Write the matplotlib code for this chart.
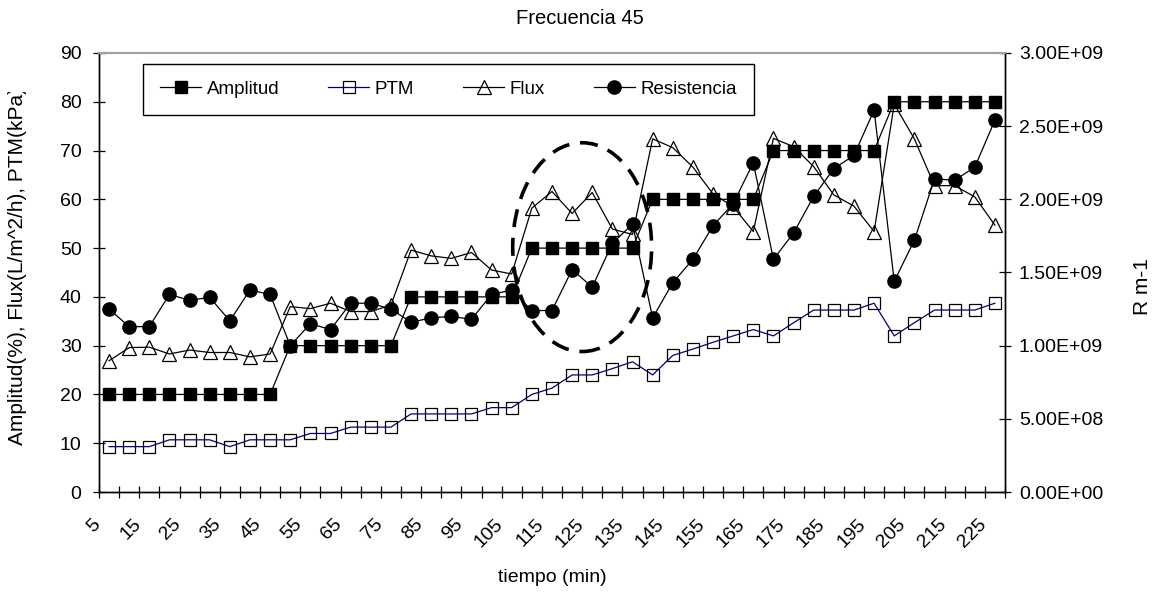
import matplotlib
matplotlib.use("Agg")
import matplotlib.pyplot as plt
from matplotlib.patches import Ellipse
from matplotlib.ticker import FixedLocator, FuncFormatter, NullFormatter, MultipleLocator
from matplotlib.transforms import Bbox, ScaledTranslation

plt.rcParams['font.family'] = ['Liberation Sans', 'DejaVu Sans']
plt.rcParams['font.size'] = 14

# tiempo (min)
minutes = [5, 10, 15, 20, 25, 30, 35, 40, 45, 50, 55, 60, 65, 70, 75,
           80, 85, 90, 95, 100, 105, 110, 115, 120, 125, 130, 135, 140, 145, 150,
           155, 160, 165, 170, 175, 180, 185, 190, 195, 200, 205, 210, 215, 220, 225]

amplitud = [20, 20, 20, 20, 20, 20, 20, 20, 20, 30, 30, 30, 30, 30, 30,
            40, 40, 40, 40, 40, 40, 50, 50, 50, 50, 50, 50, 60, 60, 60,
            60, 60, 60, 70, 70, 70, 70, 70, 70, 80, 80, 80, 80, 80, 80]

ptm = [9.3, 9.3, 9.3, 10.7, 10.7, 10.7, 9.3, 10.7, 10.7, 10.7, 12.0, 12.0, 13.3, 13.3, 13.3,
       16.0, 16.0, 16.0, 16.0, 17.3, 17.3, 20.0, 21.3, 24.0, 24.0, 25.3, 26.7, 24.0, 28.0, 29.3,
       30.7, 32.0, 33.3, 32.0, 34.7, 37.3, 37.3, 37.3, 38.7, 32.0, 34.7, 37.3, 37.3, 37.3, 38.7]

flux = [26.9, 29.6, 29.7, 28.3, 29.1, 28.6, 28.6, 27.7, 28.3, 38.0, 37.6, 38.7, 37.0, 37.0, 38.3,
        49.6, 48.4, 47.9, 49.1, 45.5, 44.7, 58.2, 61.6, 57.1, 61.4, 53.9, 52.8, 72.4, 70.6, 66.6,
        61.1, 58.5, 53.4, 72.5, 70.8, 66.7, 60.9, 58.6, 53.4, 79.5, 72.4, 62.8, 62.8, 60.5, 54.7]

resistencia = [1.25e9, 1.13e9, 1.13e9, 1.35e9, 1.31e9, 1.33e9, 1.17e9, 1.38e9, 1.35e9, 1.00e9,
               1.15e9, 1.11e9, 1.29e9, 1.29e9, 1.25e9, 1.16e9, 1.19e9, 1.20e9, 1.18e9, 1.35e9,
               1.38e9, 1.24e9, 1.24e9, 1.52e9, 1.40e9, 1.70e9, 1.83e9, 1.19e9, 1.43e9, 1.59e9,
               1.82e9, 1.97e9, 2.25e9, 1.59e9, 1.77e9, 2.02e9, 2.21e9, 2.30e9, 2.61e9, 1.44e9,
               1.72e9, 2.14e9, 2.13e9, 2.22e9, 2.54e9]

x = list(range(len(minutes)))

W, H = 1159, 592
fig = plt.figure(figsize=(W / 100, H / 100), dpi=100)
ax = fig.add_axes([0.0854, 0.1689, 0.7817, 0.7416])
ax2 = ax.twinx()

# left-axis series go above the resistance curve
ax.set_zorder(ax2.get_zorder() + 1)
ax.patch.set_visible(False)
ax2.set_facecolor('#FFFFCC')

l_res, = ax2.plot(x, resistencia, color='black', lw=0.9, marker='o', ms=9.5,
                  mfc='black', mec='black', label='Resistencia')
l_ptm, = ax.plot(x, ptm, color='#000080', lw=0.9, marker='s', ms=9,
                 mfc='none', mec='black', mew=0.9, label='PTM', zorder=2)
l_flux, = ax.plot(x, flux, color='black', lw=0.9, marker='^', ms=10,
                  mfc='none', mec='black', mew=0.9, label='Flux', zorder=2)
l_amp, = ax.plot(x, amplitud, color='black', lw=0.9, marker='s', ms=9,
                 mfc='black', mec='black', label='Amplitud', zorder=3)

ax.set_xlim(-0.5, len(x) - 0.5)
ax.set_ylim(0, 90)
ax2.set_ylim(0, 3e9)

ax.yaxis.set_major_locator(MultipleLocator(10))
ax2.yaxis.set_major_locator(MultipleLocator(5e8))
ax2.yaxis.set_major_formatter(FuncFormatter(lambda v, p: f"{v:.2E}"))

# category axis: ticks between categories, labels on every other one
ax.xaxis.set_major_locator(FixedLocator([i - 0.5 for i in range(len(x) + 1)]))
ax.xaxis.set_major_formatter(NullFormatter())
ax.xaxis.set_minor_locator(FixedLocator(x[::2]))
ax.tick_params(axis='x', which='major', direction='inout', length=9, width=0.9)
ax.tick_params(axis='x', which='minor', length=0, pad=17)
ax.tick_params(axis='y', direction='inout', length=9, width=0.9, pad=8)
ax2.tick_params(axis='y', direction='inout', length=9, width=0.9, pad=5.5)
ax.set_xticklabels([str(m) for m in minutes[::2]], minor=True,
                   rotation=45, ha='right', va='top', rotation_mode='anchor')
# slanted labels end a little left of their category
shift = ScaledTranslation(-0.17, 0, fig.dpi_scale_trans)
for lab in ax.get_xticklabels(minor=True):
    lab.set_transform(lab.get_transform() + shift)

for a in (ax, ax2):
    a.spines['top'].set_color('#a0a0a0')
    a.spines['top'].set_linewidth(1.5)
    for s in ('left', 'right', 'bottom'):
        a.spines[s].set_linewidth(1.0)

fig.text(552 / W, 1 - 577 / H, 'tiempo (min)', ha='center', va='center', fontsize=14)
fig.text(1143 / W, 1 - 287 / H, 'R m-1', rotation=90, ha='center', va='center',
         fontsize=15)
fig.text(0.5, 1 - 18 / H, 'Frecuencia 45', ha='center', va='center', fontsize=14.5)

# left label runs past the top of the chart area and gets cut
ylab = fig.text(18 / W, 1 - 266 / H, 'Amplitud(%), Flux(L/m^2/h), PTM(kPa)',
                rotation=90, ha='center', va='center', fontsize=15)
ylab.set_clip_box(Bbox.from_extents(0, 0, 60, H - 92))
ylab.set_clip_on(True)

ell = Ellipse((23.5, 50.2), 6.9, 42.8, fill=False, edgecolor='black',
              lw=2.6, linestyle=(0, (5, 3)), zorder=5)
ax.add_patch(ell)

leg = ax.legend([l_amp, l_ptm, l_flux, l_res],
                ['Amplitud', 'PTM', 'Flux', 'Resistencia'],
                loc='upper left', bbox_to_anchor=(0.0486, 0.866, 0.6744, 0.109),
                mode='expand', borderaxespad=0, ncol=4, frameon=True,
                fancybox=False, edgecolor='black', framealpha=1, fontsize=13.5,
                handlelength=2.2, handletextpad=0.3, borderpad=0.9,
                columnspacing=1.0)
leg.get_frame().set_linewidth(1.0)
leg.set_zorder(10)

fig.savefig('out.png', dpi=100)
